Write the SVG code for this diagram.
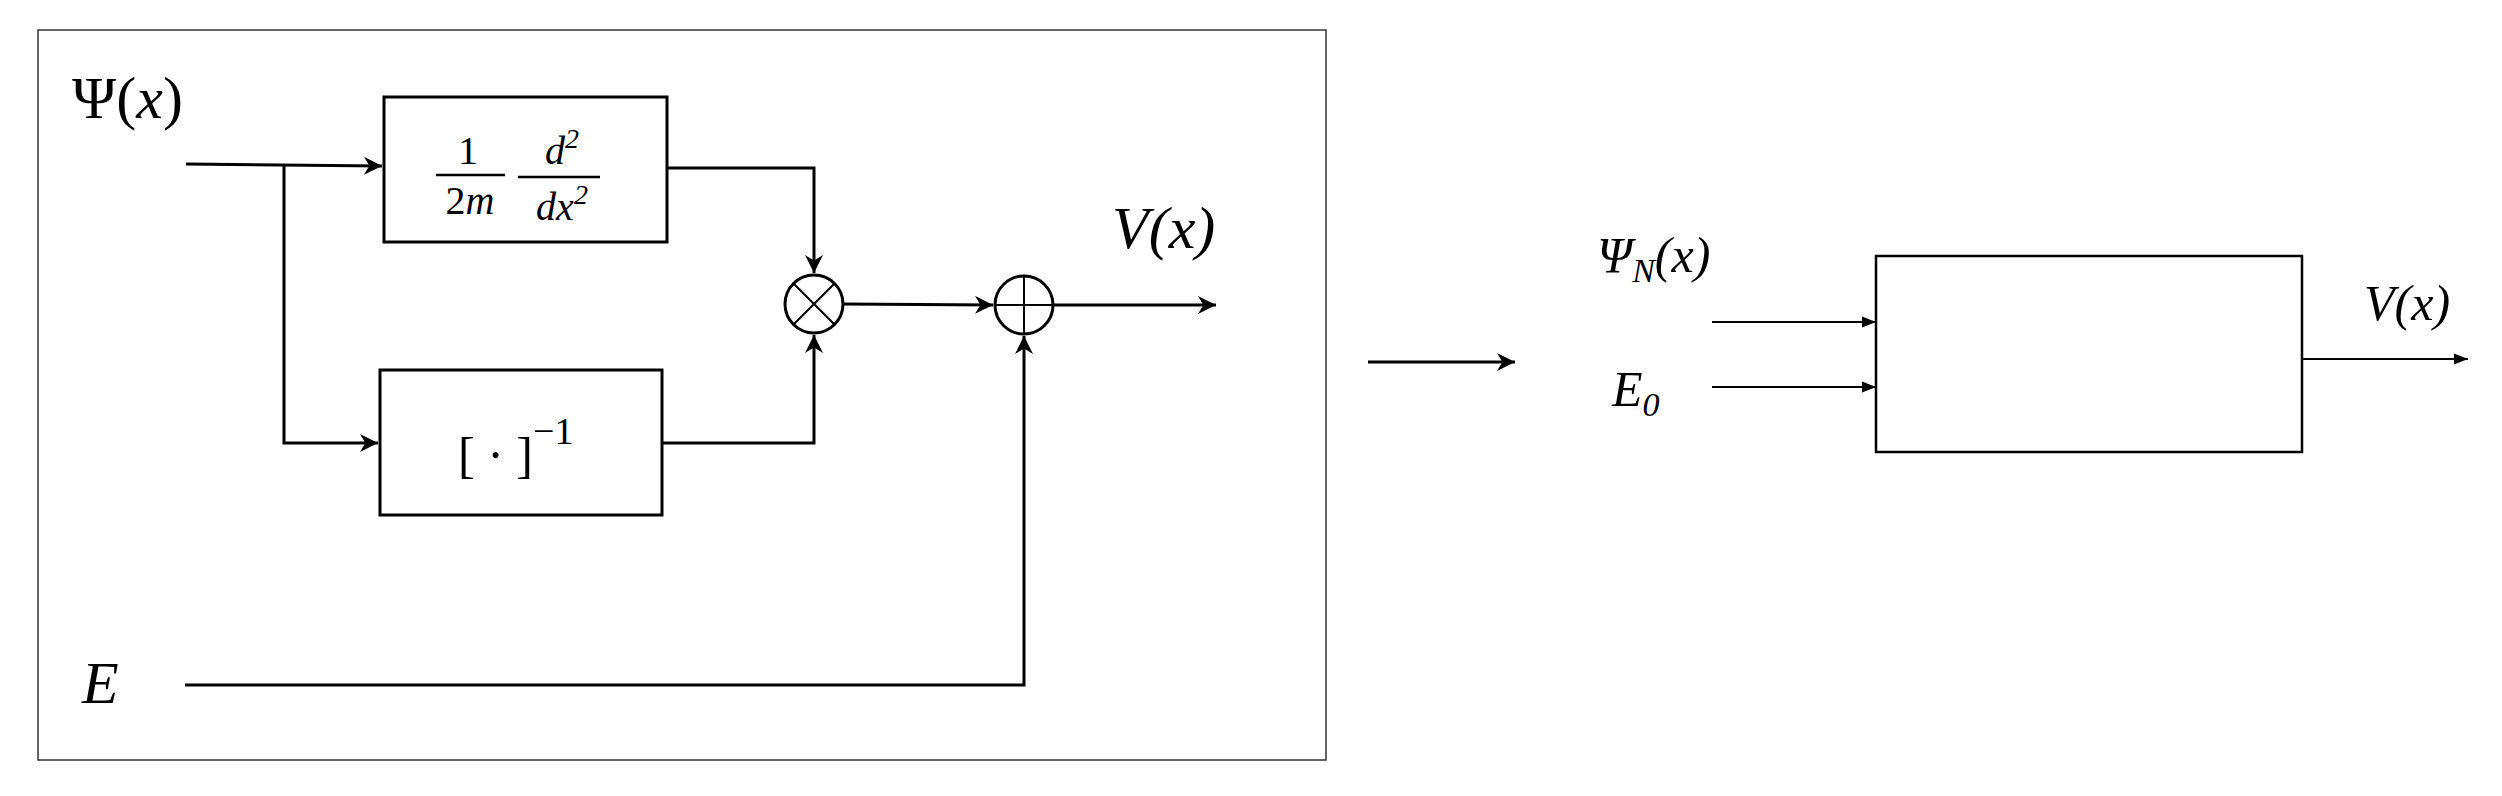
<svg xmlns="http://www.w3.org/2000/svg" width="2502" height="796" viewBox="0 0 2502 796">
<defs>
<marker id="a" viewBox="0 0 10 10" refX="10" refY="5" markerWidth="18" markerHeight="18" markerUnits="userSpaceOnUse" orient="auto"><path d="M0,0 L10,5 L0,10 L3,5 z" fill="#000"/></marker>
<marker id="a2" viewBox="0 0 10 10" refX="10" refY="5" markerWidth="14" markerHeight="14" markerUnits="userSpaceOnUse" orient="auto"><path d="M0,1 L10,5 L0,9 z" fill="#000"/></marker>
<style>
.m{font-family:"Liberation Serif",serif;font-style:italic;fill:#000}
.r{font-family:"Liberation Serif",serif;fill:#000}
.l{fill:none;stroke:#000;stroke-width:3}
.t{fill:none;stroke:#000;stroke-width:2}
</style>
</defs>
<rect x="38" y="30" width="1288" height="730" fill="none" stroke="#333" stroke-width="1.5"/>
<g id="psi"><text x="72" y="118" class="r" font-size="60">Ψ(<tspan class="m">x</tspan>)</text></g>
<g id="E"><text x="82" y="703" class="m" font-size="60">E</text></g>
<g id="Vx"><text x="1112" y="248" class="m" font-size="60">V<tspan class="r">(</tspan>x<tspan class="r">)</tspan></text></g>
<g id="deriv"><rect x="384" y="97" width="283" height="145" class="l"/>
<text x="468" y="164" class="r" font-size="40" text-anchor="middle">1</text>
<line x1="436" y1="175" x2="505" y2="175" stroke="#000" stroke-width="2.5"/>
<text x="470" y="214" class="r" font-size="40" text-anchor="middle">2<tspan class="m">m</tspan></text>
<text x="562" y="164" class="m" font-size="40" text-anchor="middle">d<tspan class="r" font-size="28" dy="-16">2</tspan></text>
<line x1="518" y1="177" x2="600" y2="177" stroke="#000" stroke-width="2.5"/>
<text x="562" y="220" class="m" font-size="40" text-anchor="middle">dx<tspan class="r" font-size="28" dy="-16">2</tspan></text></g>
<g id="inv"><rect x="380" y="370" width="282" height="145" class="l"/>
<text x="458" y="472" class="r" font-size="50">[ · ]<tspan font-size="38" dy="-28">−1</tspan></text></g>
<g id="mul"><circle cx="814" cy="304" r="29" class="l"/><path d="M793,283 L835,325 M835,283 L793,325" class="t"/></g>
<g id="sum"><circle cx="1024" cy="305" r="29" class="l"/><path d="M995,305 H1053 M1024,276 V334" class="t"/></g>
<g id="connectors">
<path d="M186,164 L382,166" class="l" marker-end="url(#a)"/>
<path d="M284,165 V443 H378" class="l" marker-end="url(#a)"/>
<path d="M667,168 H814 V273" class="l" marker-end="url(#a)"/>
<path d="M662,443 H814 V335" class="l" marker-end="url(#a)"/>
<path d="M843,304 L993,305" class="l" marker-end="url(#a)"/>
<path d="M1053,305 H1216" class="l" marker-end="url(#a)"/>
<path d="M185,685 H1024 V336" class="l" marker-end="url(#a)"/>
<path d="M1368,362 H1515" class="l" marker-end="url(#a)"/>
<path d="M1712,322 H1876" class="t" marker-end="url(#a2)"/>
<path d="M1712,387 H1876" class="t" marker-end="url(#a2)"/>
<path d="M2302,359 H2468" class="t" marker-end="url(#a2)"/>
</g>
<g id="block"><rect x="1876" y="256" width="426" height="196" fill="none" stroke="#000" stroke-width="2.5"/></g>
<g id="psiN"><text x="1597" y="272" class="m" font-size="50">Ψ<tspan font-size="34" dy="10">N</tspan><tspan class="r" dy="-10">(</tspan>x<tspan class="r">)</tspan></text></g>
<g id="E0"><text x="1612" y="406" class="m" font-size="50">E<tspan class="r" font-size="34" dy="10">0</tspan></text></g>
<g id="Vx2"><text x="2364" y="320" class="m" font-size="50">V<tspan class="r">(</tspan>x<tspan class="r">)</tspan></text></g>
</svg>
